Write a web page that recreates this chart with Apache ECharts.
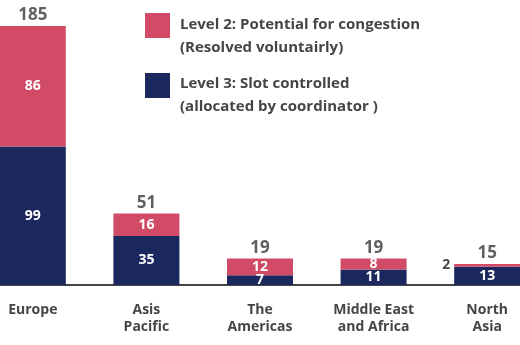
<!DOCTYPE html>
<html>
<head>
<meta charset="utf-8">
<script src="https://cdn.jsdelivr.net/npm/echarts@6/dist/echarts.min.js"></script>
<style>
  html, body { margin: 0; padding: 0; background: #ffffff; overflow: hidden; width: 520px; height: 345px; }
  #wrap { position: relative; width: 520px; height: 345px; overflow: hidden; }
  #chart { position: absolute; left: -24px; top: 0; width: 568px; height: 345px; }
</style>
</head>
<body>
<div id="wrap"><div id="chart"></div></div>
<script>
// ---- Data ----
const categories = ['Europe', 'Asis\nPacific', 'The\nAmericas', 'Middle East\nand Africa', 'North\nAsia'];
const level3Values = [99, 35, 7, 11, 13];
const level2Values = [86, 16, 12, 8, 2];
const totalValues = [185, 51, 19, 19, 15];
const level2Name = 'Level 2: Potential for congestion\n(Resolved voluntairly)';
const level3Name = 'Level 3: Slot controlled\n(allocated by coordinator )';

// ---- Styling ----
const PINK = '#D14B67';
const NAVY = '#1A285E';
const TEXT = '#454545';
const FONT = '"Open Sans", "Noto Sans", sans-serif';
const SHIFT = 24; // canvas is offset 24px to the left

const chart = echarts.init(document.getElementById('chart'), null, { renderer: 'canvas' });

function segLabelItems(values) {
  return values.map(function (v) {
    if (v < 5) {
      return { value: v, label: { position: 'left', color: TEXT, distance: 4 } };
    }
    return v;
  });
}

const option = {
  animation: false,
  backgroundColor: '#ffffff',
  grid: { left: 0, right: 0, top: 26, bottom: 60 },
  xAxis: {
    type: 'category',
    data: categories,
    axisLine: { show: true, lineStyle: { color: '#444444', width: 2 } },
    axisTick: { show: false },
    axisLabel: {
      color: TEXT,
      fontFamily: FONT,
      fontWeight: 'bold',
      fontSize: 14,
      lineHeight: 17,
      margin: 17,
      interval: 0
    }
  },
  yAxis: {
    type: 'value',
    min: 0,
    max: 185,
    show: false,
    splitLine: { show: false }
  },
  series: [
    {
      name: level3Name,
      type: 'bar',
      stack: 'total',
      barWidth: 66,
      itemStyle: { color: NAVY },
      label: {
        show: true,
        position: 'inside',
        color: '#ffffff',
        fontFamily: FONT,
        fontWeight: 'bold',
        fontSize: 14
      },
      data: segLabelItems(level3Values)
    },
    {
      name: level2Name,
      type: 'bar',
      stack: 'total',
      barWidth: 66,
      itemStyle: { color: PINK },
      label: {
        show: true,
        position: 'inside',
        color: '#ffffff',
        fontFamily: FONT,
        fontWeight: 'bold',
        fontSize: 14
      },
      data: segLabelItems(level2Values)
    },
    {
      name: 'Total',
      type: 'scatter',
      symbolSize: 0,
      silent: true,
      label: {
        show: true,
        position: 'top',
        distance: 2,
        color: '#383838',
        fontFamily: FONT,
        fontWeight: 'bold',
        fontSize: 17
      },
      data: totalValues
    }
  ],
  graphic: [
    { type: 'rect', left: 145 + SHIFT, top: 13, shape: { width: 25, height: 25 }, style: { fill: PINK } },
    { type: 'text', left: 180 + SHIFT, top: 13, style: { text: level2Name, fill: TEXT, font: 'bold 15px ' + FONT, lineHeight: 23 } },
    { type: 'rect', left: 145 + SHIFT, top: 73, shape: { width: 25, height: 25 }, style: { fill: NAVY } },
    { type: 'text', left: 180 + SHIFT, top: 72, style: { text: level3Name, fill: TEXT, font: 'bold 15px ' + FONT, lineHeight: 23 } }
  ]
};

chart.setOption(option);
</script>
</body>
</html>
